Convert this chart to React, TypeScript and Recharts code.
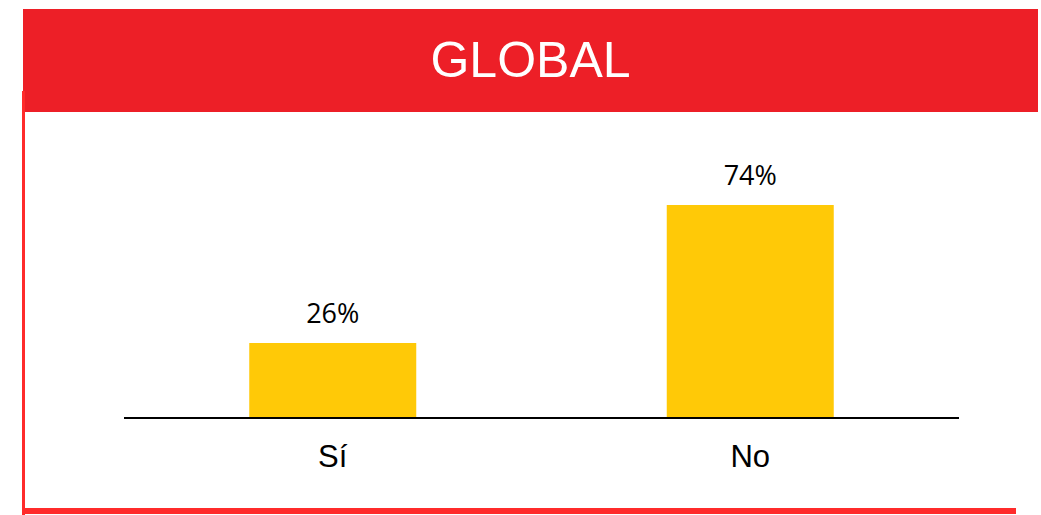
import { BarChart, Bar, XAxis, YAxis, LabelList } from 'recharts';

const categories = ['Sí', 'No'];
const values = [26, 74];

const data = categories.map((name, i) => ({ name, value: values[i] }));

const RED = '#ED1F27';
const LINE_RED = '#FF2B2B';
const YELLOW = '#FFC907';

const App = () => {
  return (
    <div style={{ position: 'absolute', left: 0, top: 0, width: 1041, height: 515, background: '#fff' }}>
      <div
        style={{
          position: 'absolute',
          left: 23,
          top: 9,
          width: 1015,
          height: 103,
          background: RED,
        }}
      />
      <div
        style={{
          position: 'absolute',
          left: 23,
          top: 30,
          width: 1015,
          textAlign: 'center',
          color: '#fff',
          fontFamily: '"Liberation Sans", Arial, sans-serif',
          fontSize: 50,
          lineHeight: '60px',
        }}
      >
        GLOBAL
      </div>
      <div style={{ position: 'absolute', left: 22, top: 91, width: 3, height: 424, background: LINE_RED }} />
      <div style={{ position: 'absolute', left: 22, top: 508, width: 994, height: 6, background: LINE_RED }} />
      <div style={{ position: 'absolute', left: 0, top: 0 }}>
        <BarChart
          width={1041}
          height={515}
          data={data}
          margin={{ top: 130, right: 82, left: 124, bottom: 67 }}
          barCategoryGap="30%"
        >
          <XAxis
            dataKey="name"
            height={30}
            axisLine={{ stroke: '#000', strokeWidth: 2 }}
            tickLine={false}
            tickSize={6}
            tickMargin={21}
            tick={{ fontSize: 31, fill: '#000', fontFamily: '"Liberation Sans", Arial, sans-serif' }}
          />
          <YAxis hide domain={[0, 100]} />
          <Bar dataKey="value" fill={YELLOW} isAnimationActive={false}>
            <LabelList
              dataKey="value"
              position="top"
              offset={20}
              formatter={(v: number) => `${v}%`}
              style={{ fontSize: 27, fill: '#000', fontFamily: '"Open Sans", sans-serif' }}
            />
          </Bar>
        </BarChart>
      </div>
    </div>
  );
};

export default App;
